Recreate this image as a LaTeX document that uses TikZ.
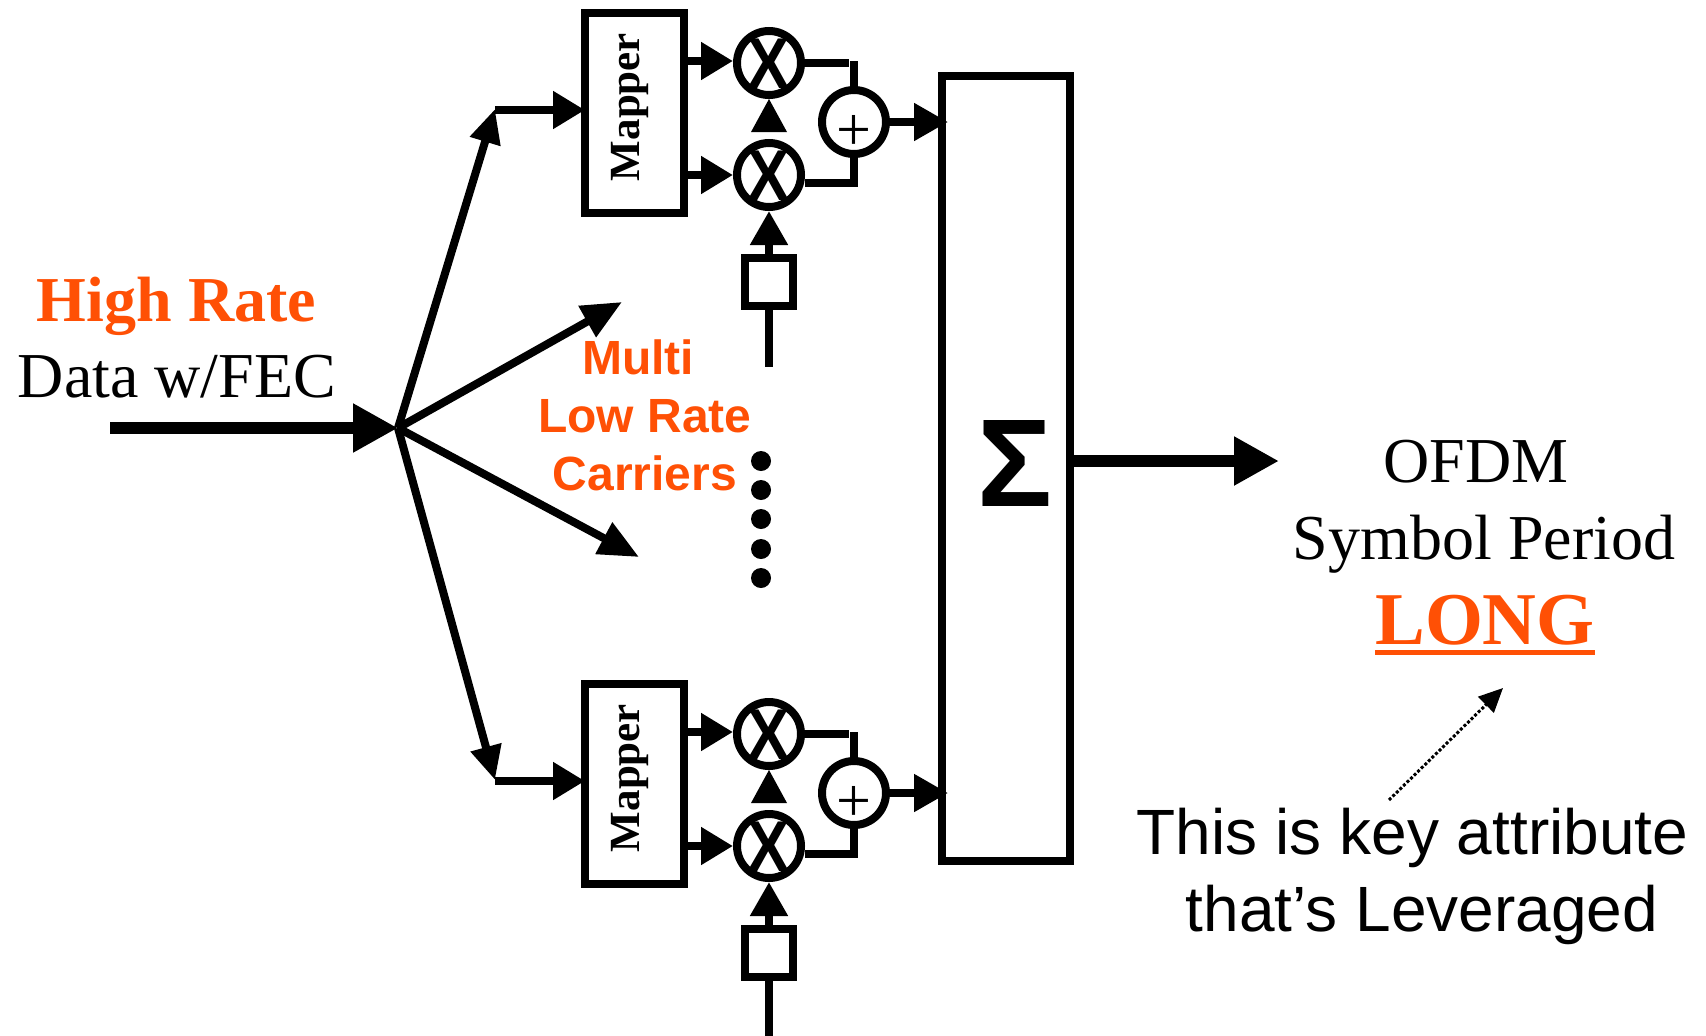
\documentclass[tikz,border=0pt]{standalone}
\usepackage{fontspec}
\setmainfont{Liberation Serif}
\setsansfont{Liberation Sans}
\usetikzlibrary{arrows.meta}
\definecolor{hot}{RGB}{255,80,5}
\tikzset{
  x=1bp,y=-1bp,
  wire/.style={line width=8bp,draw=black},
  thick wire/.style={line width=12bp,draw=black},
  headS/.style={-{Triangle[length=32bp,width=36bp]}},
  headO/.style={-{Triangle[length=34bp,width=36bp]}},
  headL/.style={-{Triangle[length=45bp,width=46bp]}},
  headB/.style={-{Triangle[length=34bp,width=30bp]}},
  headM/.style={-{Triangle[length=40bp,width=34bp]}},
  mapbox/.style={draw,line width=8bp,minimum width=99bp,minimum height=200bp,inner sep=0pt},
  opnode/.style={draw,circle,line width=8bp,minimum size=64bp,inner sep=0pt},
  osc/.style={draw,line width=8bp,minimum size=48bp,inner sep=0pt},
  serif64/.style={font=\fontsize{64bp}{64bp}\selectfont,anchor=base,inner sep=0pt},
  serifB64/.style={font=\fontsize{64bp}{64bp}\selectfont\bfseries,anchor=base,inner sep=0pt,text=hot},
  sans64/.style={font=\sffamily\fontsize{64bp}{64bp}\selectfont,anchor=base,inner sep=0pt},
  sansB/.style={font=\sffamily\bfseries\fontsize{48bp}{48bp}\selectfont,anchor=base,inner sep=0pt,text=hot},
  mapt/.style={font=\bfseries\fontsize{43bp}{43bp}\selectfont,inner sep=0pt,rotate=90},
  opt/.style={font=\sffamily\bfseries\fontsize{72bp}{72bp}\selectfont,inner sep=0pt,xscale=.88},
  plust/.style={inner sep=0pt,font=\fontsize{62bp}{62bp}\selectfont},
  dot/.style={fill=black,circle,minimum size=20bp,inner sep=0pt},
}
\newcommand{\carrier}[2]{%
  \node[mapbox] (m#1) at (634.5,#2+113) {};
  \node[mapt] (mt#1) at (630,#2+107) {Mapper};
  \node[opnode] (a#1) at (769,#2+63) {};
  \node[opt] (at#1) at (769,#2+64) {X};
  \node[opnode] (b#1) at (769,#2+175) {};
  \node[opt] (bt#1) at (769,#2+176) {X};
  \node[opnode] (p#1) at (854,#2+122) {};
  \node[plust] (pt#1) at (854,#2+133) {+};
  \node[osc] (o#1) at (769,#2+281.5) {};
  \coordinate (oe#1) at (769,#2+367);
  \coordinate (ja#1) at (854,#2+61);
  \coordinate (jae#1) at (849,#2+63);
  \coordinate (jb#1) at (854,#2+183);
  \coordinate (ma#1) at (688,#2+61);
  \coordinate (mat#1) at (733,#2+61);
  \coordinate (mb#1) at (688,#2+175);
  \coordinate (pe#1) at (948,#2+122);
  \draw[wire,headS] (ma#1) -- (mat#1);
  \draw[wire,headS] (mb#1) -- (b#1.west);
  \fill (a#1.south) -- ++(-18,33) -- ++(36,0) -- cycle;
  \draw[wire,headO] (o#1.north) -- (b#1.south);
  \draw[wire] (o#1.south) -- (oe#1);
  \draw[wire] (a#1.east) -- (jae#1);
  \draw[wire] (ja#1) -- (p#1.north);
  \draw[wire] (b#1.east |- jb#1) -- ([xshift=4bp]jb#1);
  \draw[wire] (jb#1) -- (p#1.south);
  \draw[wire,headO] (p#1.east) -- (pe#1);
}
\begin{document}
\begin{tikzpicture}
\useasboundingbox (0,0) rectangle (1706,1035);
\node[draw,line width=8bp,minimum width=128bp,minimum height=785bp,inner sep=0pt] (s) at (1006,468.5) {};
\node[inner sep=0pt,font=\sffamily\bfseries\fontsize{125bp}{125bp}\selectfont] (sg) at (1014.5,463) {Σ};
\carrier{1}{0}
\carrier{2}{671}
\coordinate (hub) at (398,428);
\coordinate (inp) at (110,428);
\coordinate (t1) at (495,109);
\coordinate (t2) at (622,302);
\coordinate (t3) at (639,557);
\coordinate (t4) at (495,780);
\coordinate (h1) at (495,110);
\coordinate (h4) at (495,781);
\coordinate (g1) at (585,110);
\coordinate (g4) at (585,781);
\coordinate (so) at (1074,461);
\coordinate (se) at (1279,461);
\draw[thick wire,headL] (inp) -- (hub);
\draw[wire,headB] (hub) -- (t1);
\draw[wire,headM] (hub) -- (t2);
\draw[wire,headM] (hub) -- (t3);
\draw[wire,headB] (hub) -- (t4);
\draw[wire,headS] (h1) -- (g1);
\draw[wire,headS] (h4) -- (g4);
\foreach \i/\y in {1/461,2/490,3/519,4/549,5/578} \node[dot] (d\i) at (761,\y) {};
\draw[thick wire,headL] (so) -- (se);
\node[serifB64] (hr) at (176.5,321) {High Rate};
\node[serif64] (df) at (177,397) {Data w/FEC};
\node[sansB] (l1) at (638,374) {Multi};
\node[sansB] (l2) at (645,432) {Low Rate};
\node[sansB] (l3) at (645,490) {Carriers};
\node[serif64] (of) at (1476,482) {OFDM};
\node[serif64] (sp) at (1484,559) {Symbol Period};
\node[serifB64,font=\fontsize{74.5bp}{74.5bp}\selectfont\bfseries] (lg) at (1485,644) {LONG};
\draw[line width=5bp,hot] ([yshift=-8bp]lg.base west) -- ([yshift=-8bp]lg.base east);
\node[sans64] (k1) at (1412.5,854) {This is key attribute};
\node[sans64] (k2) at (1422,931) {that’s Leveraged};
\coordinate (ds) at (1389,800);
\coordinate (de) at (1503,688);
\draw[line width=3bp,dotted,-{Triangle[length=24bp,width=22bp]}] (ds) -- (de);
\end{tikzpicture}
\end{document}
